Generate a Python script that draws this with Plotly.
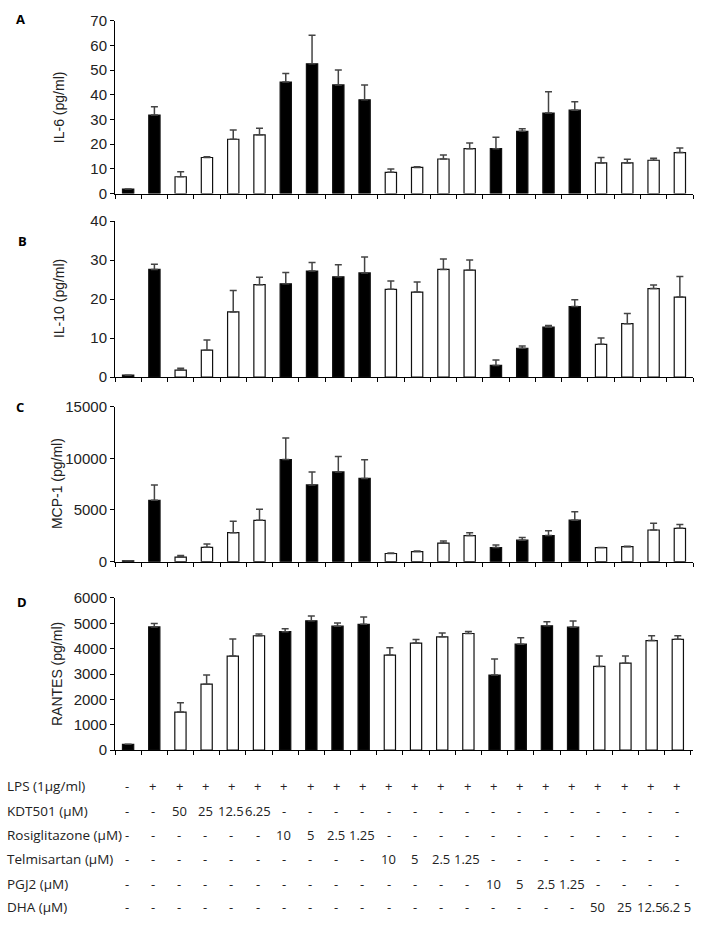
import plotly.graph_objects as go

conditions = ["Control", "LPS", "KDT501 50", "KDT501 25", "KDT501 12.5", "KDT501 6.25",
              "Rosi 10", "Rosi 5", "Rosi 2.5", "Rosi 1.25",
              "Telmi 10", "Telmi 5", "Telmi 2.5", "Telmi 1.25",
              "PGJ2 10", "PGJ2 5", "PGJ2 2.5", "PGJ2 1.25",
              "DHA 50", "DHA 25", "DHA 12.5", "DHA 6.25"]
filled = [1, 1, 0, 0, 0, 0, 1, 1, 1, 1, 0, 0, 0, 0, 1, 1, 1, 1, 0, 0, 0, 0]

il6 = [1.8, 31.8, 6.8, 14.6, 22.0, 23.8, 45.2, 52.6, 44.0, 38.0, 8.6, 10.6, 14.0, 18.2,
       18.2, 25.2, 32.6, 33.8, 12.4, 12.4, 13.5, 16.6]
il6_err = [0, 3.4, 2.0, 0.3, 3.7, 2.7, 3.4, 11.5, 6.1, 6.0, 1.3, 0.3, 1.6, 2.3,
           4.6, 1.1, 8.6, 3.4, 2.2, 1.5, 0.8, 1.9]

il10 = [0.5, 27.6, 1.8, 6.9, 16.7, 23.7, 23.9, 27.2, 25.7, 26.7, 22.5, 21.8, 27.6, 27.4,
        3.0, 7.4, 12.8, 18.1, 8.4, 13.7, 22.7, 20.5]
il10_err = [0, 1.3, 0.5, 2.6, 5.5, 1.9, 2.9, 2.2, 3.1, 4.1, 2.1, 2.6, 2.7, 2.6,
            1.4, 0.6, 0.4, 1.7, 1.6, 2.6, 0.9, 5.3]

mcp1 = [80, 5930, 440, 1390, 2800, 4000, 9880, 7420, 8680, 8050, 790, 980, 1800, 2520,
        1360, 2080, 2520, 4010, 1360, 1450, 3060, 3220]
mcp1_err = [0, 1480, 160, 310, 1100, 1070, 2080, 1260, 1480, 1800, 50, 40, 190, 280,
            250, 250, 470, 820, 0, 50, 660, 380]

rantes = [230, 4860, 1500, 2600, 3710, 4510, 4670, 5100, 4890, 4960, 3750, 4220, 4470, 4600,
          2960, 4180, 4900, 4850, 3300, 3430, 4320, 4370]
rantes_err = [0, 130, 370, 360, 670, 70, 120, 190, 120, 290, 290, 140, 150, 80,
              630, 250, 160, 240, 410, 280, 190, 140]

panels = [
    ("A", "IL-6 (pg/ml)", il6, il6_err, [0, 70], [0, 10, 20, 30, 40, 50, 60, 70]),
    ("B", "IL-10 (pg/ml)", il10, il10_err, [0, 40], [0, 10, 20, 30, 40]),
    ("C", "MCP-1 (pg/ml)", mcp1, mcp1_err, [0, 15000], [0, 5000, 10000, 15000]),
    ("D", "RANTES (pg/ml)", rantes, rantes_err, [0, 6000], [0, 1000, 2000, 3000, 4000, 5000, 6000]),
]

row_labels = ["LPS (1\u00b5g/ml)", "KDT501 (\u00b5M)", "Rosiglitazone (\u00b5M)",
              "Telmisartan (\u00b5M)", "PGJ2 (\u00b5M)", "DHA (\u00b5M)"]
row_lps = ["-"] + ["+"] * 21
row_kdt = ["-", "-", "50", "25", "12.5", "6.25"] + ["-"] * 16
row_rosi = ["-"] * 6 + ["10", "5", "2.5", "1.25"] + ["-"] * 12
row_telmi = ["-"] * 10 + ["10", "5", "2.5", "1.25"] + ["-"] * 8
row_pgj2 = ["-"] * 14 + ["10", "5", "2.5", "1.25"] + ["-"] * 4
row_dha = ["-"] * 18 + ["50", "25", "12.5", "6.2 5"]
rows = [row_lps, row_kdt, row_rosi, row_telmi, row_pgj2, row_dha]

W, H = 702, 926
def py(px):
    return 1 - px / H

x0, x1 = 115 / W, 693 / W
domains = [(188, 12), (375, 216), (563, 405), (755, 600)]
letter_pos = [(20, 10), (22, 236), (20, 405), (22, 604)]
title_x = [59, 59, 57, 57]

fig = go.Figure()
annotations = []
colors = ["black" if f else "white" for f in filled]
tfont = "Open Sans, Lato"

for i, (letter, title, vals, errs, yr, tv) in enumerate(panels):
    n = i + 1
    xa = "x" if n == 1 else f"x{n}"
    ya = "y" if n == 1 else f"y{n}"
    fig.add_trace(go.Bar(
        x=conditions, y=vals, xaxis=xa, yaxis=ya,
        marker=dict(color=colors, line=dict(color="#111", width=1.2)),
        error_y=dict(type="data", array=errs, arrayminus=[0] * len(errs), symmetric=False,
                     color="#444", thickness=1.5, width=3.5),
        showlegend=False, hoverinfo="skip",
    ))
    b, t = domains[i]
    fig.layout[f"xaxis{'' if n == 1 else n}"] = dict(
        domain=[x0, x1], anchor=ya, type="category", tickson="boundaries",
        ticks="outside", ticklen=4, tickcolor="black", showticklabels=False,
        showline=True, linecolor="black", linewidth=1, showgrid=False, zeroline=False,
    )
    fig.layout[f"yaxis{'' if n == 1 else n}"] = dict(
        domain=[py(b), py(t)], anchor=xa, range=yr, tickvals=tv, tickformat="d",
        ticks="outside", ticklen=4, tickcolor="black",
        showline=True, linecolor="black", linewidth=1, showgrid=False, zeroline=False,
        tickfont=dict(family="Liberation Sans, Arial", size=15, color="#222"),
    )
    lx, ly = letter_pos[i]
    annotations.append(dict(text=f"<b>{letter}</b>", x=lx / W, y=py(ly), xref="paper", yref="paper",
                            showarrow=False, xanchor="center", yanchor="middle",
                            font=dict(family=tfont, size=13, color="black")))
    annotations.append(dict(text=title, x=title_x[i] / W, y=(py(b) + py(t)) / 2, xref="paper", yref="paper",
                            showarrow=False, textangle=-90, xanchor="center", yanchor="middle",
                            font=dict(family="Liberation Sans, Arial", size=14, color="#222")))

row_y = [792, 817, 841, 866, 891, 915]
for r, (lab, vals) in enumerate(zip(row_labels, rows)):
    annotations.append(dict(text=lab, x=5 / W, y=py(row_y[r]), xref="paper", yref="paper",
                            showarrow=False, xanchor="left", yanchor="middle",
                            font=dict(family=tfont, size=13.5, color="#222")))
    for j, v in enumerate(vals):
        annotations.append(dict(text=v, x=j - 0.05, y=py(row_y[r]), xref="x4", yref="paper",
                                showarrow=False, xanchor="center", yanchor="middle",
                                font=dict(family=tfont, size=13, color="#222")))

fig.update_layout(
    width=W, height=H, margin=dict(l=0, r=0, t=0, b=0),
    paper_bgcolor="white", plot_bgcolor="white", hovermode=False,
    bargap=0.57, annotations=annotations,
)
fig.write_html("out.html", config={"displayModeBar": False, "staticPlot": True},
               post_script="document.body.style.margin='0';document.body.style.overflow='hidden';")
